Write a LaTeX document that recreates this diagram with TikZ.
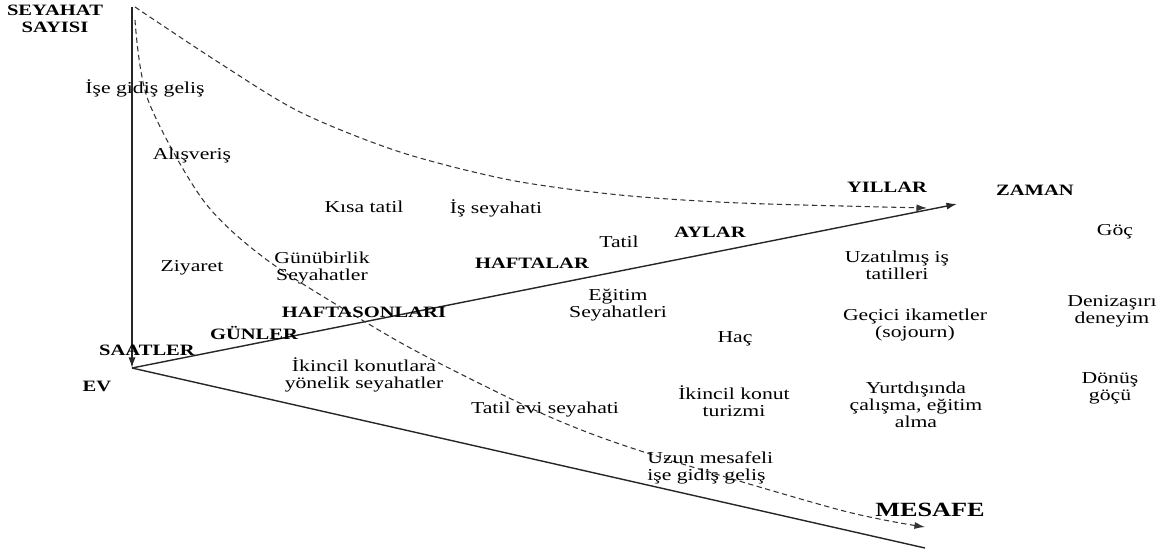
\documentclass[tikz,border=0pt]{standalone}
\usepackage{fontspec}
\setmainfont{Liberation Serif}[FakeStretch=1.3]
\usetikzlibrary{arrows.meta}

\begin{document}
\begin{tikzpicture}[x=0.02cm, y=-0.02cm,
  axis/.style={black!85, line width=.8pt},
  trend/.style={black!80, line width=.6pt, dash pattern=on 3pt off 2pt},
  tip/.style={-{Latex[length=6pt,width=4pt]}},
  period/.style={inner sep=0pt, font=\fontsize{9}{10}\selectfont\bfseries},
  trip/.style={inner sep=0pt, align=center, font=\fontsize{9.5}{9.7}\selectfont}]
\useasboundingbox (0,0) rectangle (1164,552);

% axes
\coordinate (ev) at (132,368);
\coordinate (sayi) at (132,7);
\coordinate (zaman) at (957,204);
\coordinate (mesafe) at (925,548);
\draw[axis,tip] (sayi) -- (ev);
\draw[axis,tip] (ev) -- (zaman);
\draw[axis] (ev) -- (mesafe);

% trend curves
\draw[trend,tip] plot[smooth] coordinates {(135,7) (218,62) (300,112) (400,152) (510,180) (620,195) (740,203) (927,208)};
\draw[trend,tip] plot[smooth] coordinates {(135,20) (148,100) (203,200) (267,260) (367,323) (433,360) (550,417) (647,453) (840,510) (925,527)};

% time scale labels
\foreach \pos/\name/\txt in {(147,350)/saat/SAATLER, (254,333)/gun/GÜNLER,
  (364,312)/hsonu/HAFTASONLARI, (532,263)/hafta/HAFTALAR, (710,232)/ay/AYLAR,
  (887,187)/yil/YILLAR, (1035,190)/zamanlbl/ZAMAN, (97,386)/evlbl/EV}
  \node[period] (\name) at \pos {\txt};
\node[period, align=center] (sayilbl) at (55,19) {SEYAHAT\\SAYISI};
\node[period, font=\fontsize{11.5}{12}\selectfont\bfseries] (mesafelbl) at (930,510) {MESAFE};

% trip types
\node[trip] (isegidis) at (145,88) {İşe gidiş geliş};
\node[trip] (alisveris) at (192,155) {Alışveriş};
\node[trip] (kisatatil) at (364,207) {Kısa tatil};
\node[trip] (isseyahat) at (496,208) {İş seyahati};
\node[trip] (tatil) at (619,242) {Tatil};
\node[trip] (ziyaret) at (192,268) {Ziyaret};
\node[trip] (gunubirlik) at (322,268) {Günübirlik\\Seyahatler};
\node[trip] (egitim) at (618,305) {Eğitim\\Seyahatleri};
\node[trip] (ikincil) at (364,375) {İkincil konutlara\\yönelik seyahatler};
\node[trip] (tatilevi) at (545,410) {Tatil evi seyahati};
\node[trip] (hac) at (735,339) {Haç};
\node[trip] (konutturizm) at (734,401) {İkincil konut\\turizmi};
\node[trip, align=left, anchor=west] (uzunmesafe) at (647,468) {Uzun mesafeli\\işe gidiş geliş};
\node[trip] (uzatilmis) at (897,265) {Uzatılmış iş\\tatilleri};
\node[trip] (gecici) at (915,325) {Geçici ikametler\\(sojourn)};
\node[trip] (yurtdisi) at (916,405) {Yurtdışında\\çalışma, eğitim\\alma};
\node[trip] (goc) at (1115,232) {Göç};
\node[trip] (denizasiri) at (1112,311) {Denizaşırı\\deneyim};
\node[trip] (donus) at (1110,388) {Dönüş\\göçü};

\end{tikzpicture}
\end{document}
